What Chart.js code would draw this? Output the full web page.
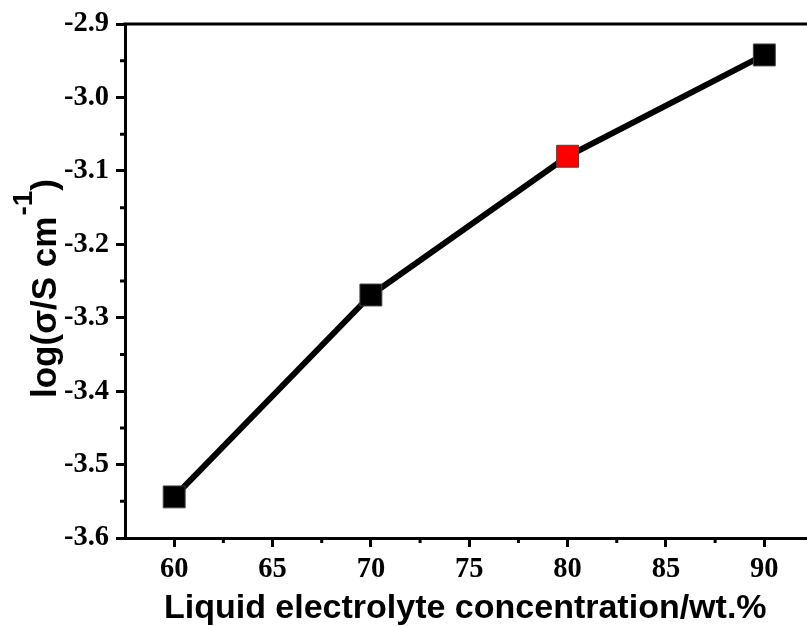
<!DOCTYPE html>
<html>
<head>
    <title>Ionic conductivity vs liquid electrolyte content</title>
    <script src="https://cdn.jsdelivr.net/npm/chart.js"></script>
    <style>
        body { margin: 0; background: #fff; }
        #wrap { width: 807px; height: 626px; overflow: hidden; }
    </style>
</head>
<body>
    <div id="wrap">
        <canvas id="chart" width="830" height="626"></canvas>
    </div>

    <script>
        // liquid electrolyte content (wt.%) and log conductivity
        const concentration = [60, 70, 80, 90];
        const logSigma = [-3.544, -3.269, -3.080, -2.942];
        const pointColors = ['#000000', '#000000', '#ff0000', '#000000'];

        const xTicks = [60, 65, 70, 75, 80, 85, 90];
        const yTicks = [-3.6, -3.5, -3.4, -3.3, -3.2, -3.1, -3.0, -2.9];

        const tickFont = { family: 'Liberation Serif', size: 28.5, weight: 'bold' };

        // frame top line, minor ticks and axis titles
        const decor = {
            id: 'decor',
            afterDraw(chart) {
                const c = chart.ctx;
                const a = chart.chartArea;
                const xs = chart.scales.x, ys = chart.scales.y;
                c.save();
                c.strokeStyle = '#000';
                c.lineWidth = 3;
                c.beginPath();
                c.moveTo(a.left - 1.5, a.top);
                c.lineTo(a.right, a.top);
                c.moveTo(a.right, a.top);
                c.lineTo(a.right, a.bottom);
                c.stroke();

                // minor ticks halfway between majors
                c.beginPath();
                for (let i = 0; i < xTicks.length - 1; i++) {
                    const px = xs.getPixelForValue((xTicks[i] + xTicks[i + 1]) / 2);
                    c.moveTo(px, a.bottom);
                    c.lineTo(px, a.bottom + 5);
                }
                for (let i = 0; i < yTicks.length - 1; i++) {
                    const py = ys.getPixelForValue((yTicks[i] + yTicks[i + 1]) / 2);
                    c.moveTo(a.left, py);
                    c.lineTo(a.left - 5, py);
                }
                c.stroke();

                // x title
                c.fillStyle = '#000';
                c.font = 'bold 34px "Liberation Sans", Arial, sans-serif';
                c.textAlign = 'center';
                c.textBaseline = 'alphabetic';
                c.fillText('Liquid electrolyte concentration/wt.%', (a.left + a.right) / 2 - 4, 618);

                // y title with superscript
                c.translate(56, 398);
                c.rotate(-Math.PI / 2);
                c.textAlign = 'left';
                const main = 'log(\u03c3/S cm';
                c.font = 'bold 35px "Liberation Sans", Arial, sans-serif';
                c.fillText(main, 0, 0);
                let w = c.measureText(main).width;
                c.font = 'bold 28px "Liberation Sans", Arial, sans-serif';
                c.fillText('-1', w + 1, -24);
                w += 1 + c.measureText('-1').width;
                c.font = 'bold 35px "Liberation Sans", Arial, sans-serif';
                c.fillText(')', w, 0);
                c.restore();
            }
        };

        const ctx = document.getElementById('chart').getContext('2d');
        const chart = new Chart(ctx, {
            type: 'line',
            data: {
                datasets: [{
                    data: concentration.map((x, i) => ({ x: x, y: logSigma[i] })),
                    borderColor: '#000',
                    borderWidth: 6,
                    pointStyle: 'rect',
                    pointRadius: 15.5,
                    pointBackgroundColor: pointColors,
                    pointBorderColor: '#444',
                    pointBorderWidth: 1,
                    fill: false,
                    tension: 0
                }]
            },
            options: {
                responsive: false,
                animation: false,
                events: [],
                layout: { padding: { top: 24, right: 15, left: 0, bottom: 0 } },
                plugins: {
                    legend: { display: false },
                    tooltip: { enabled: false }
                },
                scales: {
                    x: {
                        type: 'linear',
                        min: 57.5,
                        max: 92.5,
                        afterBuildTicks: s => { s.ticks = xTicks.map(v => ({ value: v })); },
                        afterFit: s => { s.height = 88; },
                        ticks: { color: '#000', font: tickFont, padding: 6, maxRotation: 0 },
                        grid: {
                            drawOnChartArea: false, drawTicks: true,
                            tickLength: 9, tickWidth: 3, tickColor: '#000'
                        },
                        border: { display: true, color: '#000', width: 3 }
                    },
                    y: {
                        min: -3.6,
                        max: -2.9,
                        afterBuildTicks: s => { s.ticks = yTicks.map(v => ({ value: v })); },
                        afterFit: s => { s.width = 125; },
                        ticks: {
                            color: '#000', font: tickFont, padding: 7,
                            callback: v => v.toFixed(1)
                        },
                        grid: {
                            drawOnChartArea: false, drawTicks: true,
                            tickLength: 9, tickWidth: 3, tickColor: '#000'
                        },
                        border: { display: true, color: '#000', width: 3 }
                    }
                }
            },
            plugins: [decor]
        });
    </script>
</body>
</html>
